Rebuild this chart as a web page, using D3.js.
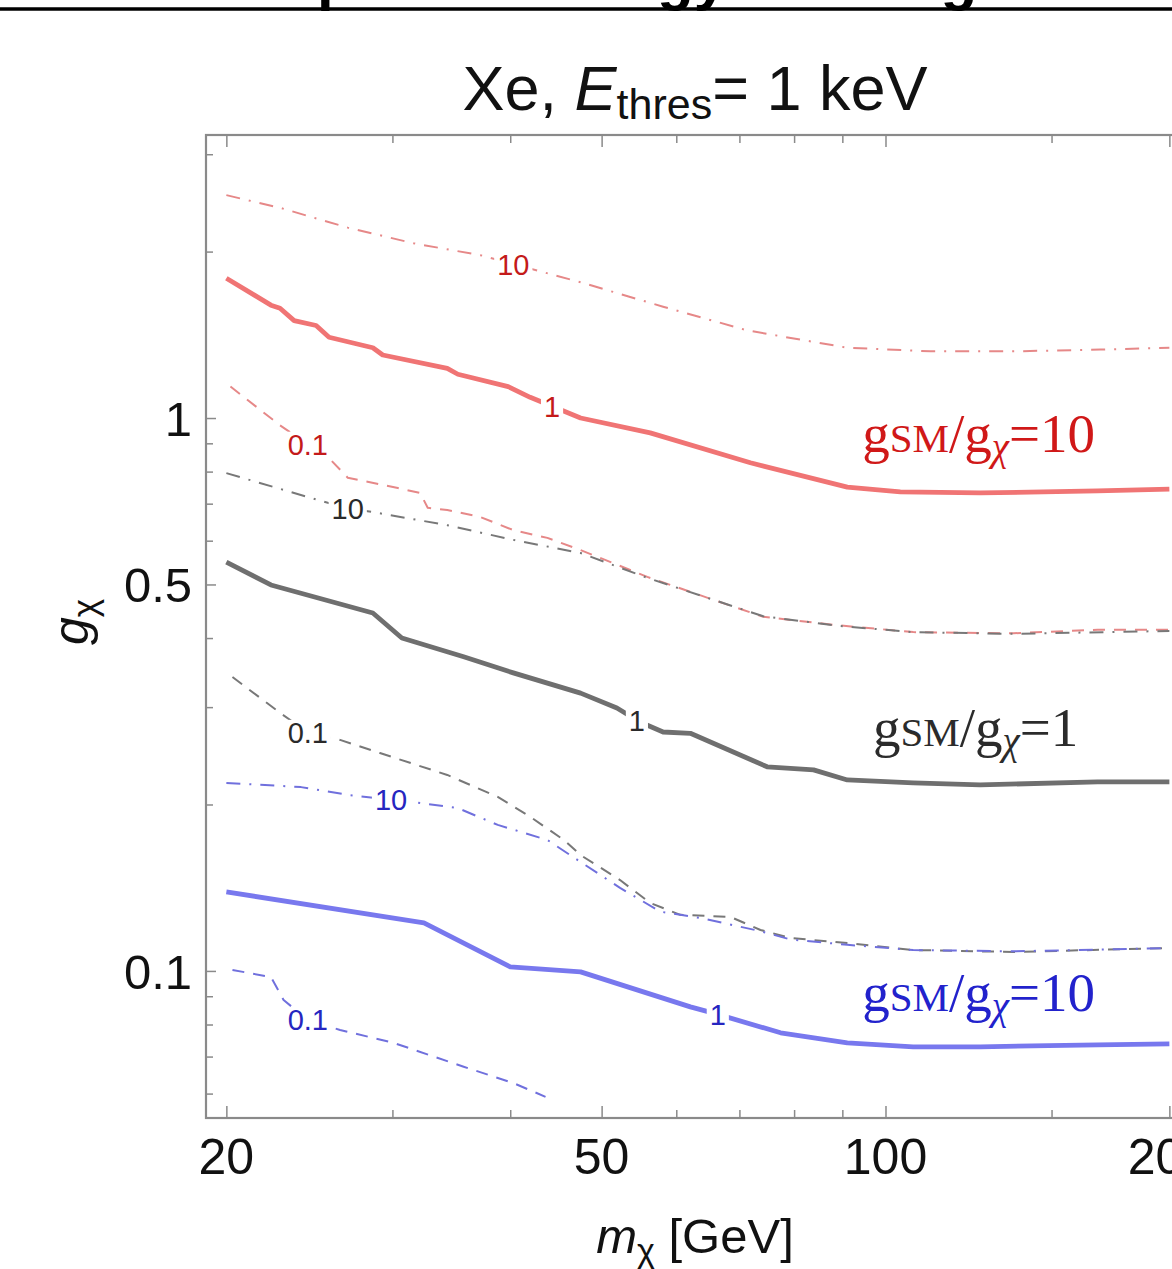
<!DOCTYPE html>
<html>
<head>
<meta charset="utf-8">
<script src="https://cdn.jsdelivr.net/npm/d3@7"></script>
<style>
  html, body { margin: 0; padding: 0; background: #fff; }
  svg { display: block; }
</style>
</head>
<body>
<svg id="chart" width="1172" height="1269"></svg>
<script>
// ---------------- data ----------------
const slideTitle = "Impact of energy cut on g";
const chartTitle = ["Xe, ", "E", "thres", "= 1 keV"];
const xTickMajor = [20, 50, 100, 200];
const xTickMinor = [30, 40, 60, 70, 80, 90, 150];
const yTickMajor = [0.1, 0.5, 1];
const yTickMinor = [0.06, 0.07, 0.08, 0.09, 0.2, 0.3, 0.4, 0.6, 0.7, 0.8, 0.9, 2, 3];

// red family (gSM/gchi = 10 at top)
const redM_10  = [20, 22.8, 26.9, 31.6, 37.2, 47.5, 58.1, 71.4, 91.1, 111.6, 136.7, 169, 200];
const redG_10  = [2.53, 2.40, 2.21, 2.07, 1.97, 1.76, 1.59, 1.44, 1.34, 1.32, 1.32, 1.33, 1.34];
const redM_1   = [20, 22.3, 22.8, 23.6, 24.9, 25.7, 28.6, 29.3, 34.3, 35.2, 39.8, 42.0, 47.5, 56.3, 71.9, 91.1, 103.7, 126, 167.8, 200];
const redG_1   = [1.79, 1.60, 1.58, 1.50, 1.47, 1.40, 1.34, 1.30, 1.23, 1.20, 1.14, 1.09, 1.00, 0.94, 0.83, 0.75, 0.735, 0.732, 0.738, 0.744];
const redM_01  = [20.2, 22.8, 25.8, 26.9, 30.4, 32.1, 32.7, 34.3, 37.2, 40.3, 43.8, 47.5, 55.9, 65.7, 74.2, 88.9, 107, 136.7, 167.8, 200];
const redG_01  = [1.14, 0.97, 0.84, 0.78, 0.747, 0.732, 0.688, 0.682, 0.662, 0.627, 0.607, 0.577, 0.516, 0.469, 0.437, 0.422, 0.410, 0.408, 0.414, 0.414];

// gray family (gSM/gchi = 1)
const grayM_10 = [20, 25.0, 26.9, 28.6, 34.3, 40.3, 47.5, 55.9, 65.7, 74.2, 88.9, 107, 136.7, 200];
const grayG_10 = [0.795, 0.711, 0.686, 0.676, 0.640, 0.602, 0.570, 0.514, 0.469, 0.438, 0.421, 0.410, 0.407, 0.412];
const grayM_1  = [20, 22.3, 28.6, 30.7, 35.7, 40.3, 47.5, 51.9, 54.9, 58.1, 62.1, 74.9, 83.9, 91.1, 107, 126, 167.8, 200];
const grayG_1  = [0.549, 0.499, 0.444, 0.400, 0.370, 0.346, 0.318, 0.299, 0.282, 0.2705, 0.269, 0.234, 0.231, 0.2215, 0.2188, 0.217, 0.2197, 0.2197];
const grayM_01 = [20.3, 22.8, 24.4, 26.4, 29.1, 34.3, 38.8, 42.0, 45.6, 47.5, 52.3, 56.3, 60.6, 68.5, 73.7, 79.3, 91.1, 107, 136.7, 200];
const grayG_01 = [0.340, 0.293, 0.270, 0.2617, 0.2478, 0.2262, 0.2064, 0.190, 0.1725, 0.162, 0.146, 0.1327, 0.1263, 0.1252, 0.1186, 0.1147, 0.1123, 0.1091, 0.1082, 0.110];

// blue family (gSM/gchi = 10 at bottom)
const blueM_10 = [20, 24.0, 27.0, 31.6, 35.2, 38.8, 43.8, 47.5, 52.3, 57.7, 63.6, 73.7, 79.3, 91.1, 107, 136.7, 200];
const blueG_10 = [0.2188, 0.215, 0.208, 0.202, 0.197, 0.1837, 0.1725, 0.1574, 0.1413, 0.128, 0.1247, 0.118, 0.1140, 0.1115, 0.1091, 0.1085, 0.110];
const blueM_1  = [20, 32.4, 40.0, 47.5, 62.1, 65.7, 77.4, 91.1, 107, 126, 167.8, 200];
const blueG_1  = [0.139, 0.1221, 0.1017, 0.0996, 0.0861, 0.0839, 0.0773, 0.0741, 0.0729, 0.0729, 0.0735, 0.0738];
const blueM_01 = [20.3, 22.3, 23.0, 24.4, 26.4, 30.1, 35.7, 40.3, 43.6];
const blueG_01 = [0.1004, 0.0975, 0.0886, 0.0815, 0.0782, 0.0741, 0.0671, 0.0627, 0.0592];

// contour level labels: level text, and mass where each label sits
const contourLabelText = ["10", "1", "0.1"];
const redLabelM  = [40.3, 44.3, 24.4];
const grayLabelM = [26.9, 54.5, 24.4];
const blueLabelM = [29.9, 66.4, 24.4];

// region annotations: ratio value, and (m, g) anchor
const annoRatio = ["10", "1", "10"];
const annoM = [94.5, 97.0, 94.5];
const annoG = [0.868, 0.255, 0.0845];

// ---------------- drawing ----------------
(function draw() {
const svg = d3.select("#chart");
const W = 1172, H = 1269;
svg.append("rect").attr("width", W).attr("height", H).attr("fill", "#fff");

const sans = "Liberation Sans, Arial, Helvetica, sans-serif";
const serif = "Liberation Serif, Times New Roman, serif";

// slide header remnant (cut off at the top of the screenshot: only descenders show)
svg.append("text")
  .attr("x", 247).attr("y", -1.5)
  .attr("font-family", sans)
  .attr("font-weight", "bold")
  .attr("font-size", 60)
  .attr("fill", "#000")
  .text(slideTitle);
svg.append("line").attr("x1", 0).attr("x2", W).attr("y1", 9).attr("y2", 9)
  .attr("stroke", "#000").attr("stroke-width", 3.5);

const pLeft = 206, pTop = 135, pBottom = 1118;
const x = d3.scaleLog().domain([19.03, 205]).range([pLeft, pLeft + 943 * Math.log10(205 / 19.03)]);
const y = d3.scaleLog().domain([0.0542, 3.25]).range([pBottom, pTop]);
const pRight = x.range()[1];

const frameColor = "#8a8a8a";

// title
const title = svg.append("text")
  .attr("x", 695).attr("y", 110)
  .attr("text-anchor", "middle")
  .attr("font-family", sans).attr("font-size", 63).attr("fill", "#111");
title.append("tspan").text(chartTitle[0]);
title.append("tspan").attr("font-style", "italic").text(chartTitle[1]);
title.append("tspan").attr("font-size", 43).attr("dy", 9).text(chartTitle[2]);
title.append("tspan").attr("dy", -9).text(chartTitle[3]);

// clip for plot
svg.append("defs").append("clipPath").attr("id", "plotclip")
  .append("rect").attr("x", pLeft).attr("y", pTop).attr("width", pRight - pLeft).attr("height", pBottom - pTop);

const xTicks = xTickMajor.concat(xTickMinor);
const yTicks = yTickMajor.concat(yTickMinor);

// bottom axis (ticks point inward)
const gB = svg.append("g").attr("transform", `translate(0,${pBottom})`)
  .call(d3.axisTop(x).tickValues(xTicks).tickSizeInner(8).tickSizeOuter(0).tickFormat(""));
gB.select(".domain").remove();
gB.selectAll(".tick line").attr("stroke", frameColor).attr("stroke-width", 1.5)
  .attr("y2", d => xTickMajor.includes(d) ? -12 : -8);
gB.selectAll("text.lbl").data(xTickMajor).join("text").attr("class", "lbl")
  .attr("x", d => x(d)).attr("y", 56)
  .attr("text-anchor", "middle")
  .attr("font-family", sans).attr("font-size", 50).attr("fill", "#111")
  .text(d => d);

// top axis
const gT = svg.append("g").attr("transform", `translate(0,${pTop})`)
  .call(d3.axisBottom(x).tickValues(xTicks).tickSizeInner(8).tickSizeOuter(0).tickFormat(""));
gT.select(".domain").remove();
gT.selectAll(".tick line").attr("stroke", frameColor).attr("stroke-width", 1.5)
  .attr("y2", d => xTickMajor.includes(d) ? 12 : 8);

// left axis
const gL = svg.append("g").attr("transform", `translate(${pLeft},0)`)
  .call(d3.axisRight(y).tickValues(yTicks).tickSizeInner(7).tickSizeOuter(0).tickFormat(""));
gL.select(".domain").remove();
gL.selectAll(".tick line").attr("stroke", frameColor).attr("stroke-width", 1.5)
  .attr("x2", d => yTickMajor.includes(d) ? 10 : 7);
gL.selectAll("text.lbl").data(yTickMajor).join("text").attr("class", "lbl")
  .attr("x", -14).attr("y", d => y(d))
  .attr("dy", "0.36em")
  .attr("text-anchor", "end")
  .attr("font-family", sans).attr("font-size", 49).attr("fill", "#111")
  .text(d => d);

// frame
svg.append("rect")
  .attr("x", pLeft).attr("y", pTop).attr("width", pRight - pLeft).attr("height", pBottom - pTop)
  .attr("fill", "none").attr("stroke", frameColor).attr("stroke-width", 2.2);

// axis labels
const xl = svg.append("text").attr("x", 695).attr("y", 1253).attr("text-anchor", "middle")
  .attr("font-family", sans).attr("font-size", 49).attr("fill", "#111");
xl.append("tspan").attr("font-style", "italic").text("m");
xl.append("tspan").attr("font-size", 34).attr("dy", 9).text("χ");
xl.append("tspan").attr("dy", -9).text(" [GeV]");

const yl = svg.append("text").attr("transform", "translate(88,622) rotate(-90)")
  .attr("text-anchor", "middle")
  .attr("font-family", sans).attr("font-size", 50).attr("fill", "#111");
yl.append("tspan").attr("font-style", "italic").text("g");
yl.append("tspan").attr("font-size", 35).attr("dy", 9).text("χ");

// curves
const plot = svg.append("g").attr("clip-path", "url(#plotclip)");
const line = d3.line().x(d => x(d[0])).y(d => y(d[1]));
const zipPts = (ms, gs) => ms.map((m, i) => [m, gs[i]]);

const families = [
  { sets: [[redM_10, redG_10], [redM_1, redG_1], [redM_01, redG_01]],
    solid: "#f07474", thin: "#e68888", labelColor: "#c41a1a", labelM: redLabelM },
  { sets: [[grayM_10, grayG_10], [grayM_1, grayG_1], [grayM_01, grayG_01]],
    solid: "#6f6f6f", thin: "#787878", labelColor: "#2a2a2a", labelM: grayLabelM },
  { sets: [[blueM_10, blueG_10], [blueM_1, blueG_1], [blueM_01, blueG_01]],
    solid: "#7878ee", thin: "#7070dd", labelColor: "#2626c0", labelM: blueLabelM }
];
const dashes = ["14,9,2,9", null, "12,9"];

function interpLog(ms, gs, m) {
  const lm = Math.log(m);
  for (let i = 0; i < ms.length - 1; i++) {
    const a = Math.log(ms[i]), b = Math.log(ms[i + 1]);
    if (lm >= a && lm <= b) {
      const t = (lm - a) / (b - a);
      return Math.exp(Math.log(gs[i]) * (1 - t) + Math.log(gs[i + 1]) * t);
    }
  }
  return gs[0];
}

families.forEach(f => {
  f.sets.forEach((s, k) => {
    plot.append("path").datum(zipPts(s[0], s[1]))
      .attr("d", line)
      .attr("fill", "none")
      .attr("stroke", k === 1 ? f.solid : f.thin)
      .attr("stroke-width", k === 1 ? 4.8 : 2)
      .attr("stroke-dasharray", dashes[k])
      .attr("stroke-linejoin", "round");
  });
});

const labelLayer = svg.append("g");
families.forEach(f => {
  f.sets.forEach((s, k) => {
    const m = f.labelM[k];
    const g = interpLog(s[0], s[1], m);
    const t = labelLayer.append("text")
      .attr("x", x(m)).attr("y", y(g)).attr("dy", "0.36em")
      .attr("text-anchor", "middle")
      .attr("font-family", sans).attr("font-size", 29)
      .attr("fill", f.labelColor)
      .text(contourLabelText[k]);
    const bb = t.node().getBBox();
    labelLayer.insert("rect", "text")
      .attr("x", bb.x - 3).attr("y", bb.y + 3).attr("width", bb.width + 6).attr("height", bb.height - 6)
      .attr("fill", "#fff");
  });
});

// region annotations
const annoColors = ["#d01818", "#2b2b2b", "#2222cc"];
annoRatio.forEach((r, i) => {
  const t = svg.append("text")
    .attr("x", x(annoM[i])).attr("y", y(annoG[i]))
    .attr("font-family", serif).attr("font-size", 55).attr("fill", annoColors[i]);
  t.append("tspan").text("g");
  t.append("tspan").attr("font-size", 41).text("SM");
  t.append("tspan").text("/g");
  t.append("tspan").attr("font-style", "italic").attr("font-size", 39).attr("dy", 8).text("χ");
  t.append("tspan").attr("dy", -8).text("=" + r);
});
})();
</script>
</body>
</html>
